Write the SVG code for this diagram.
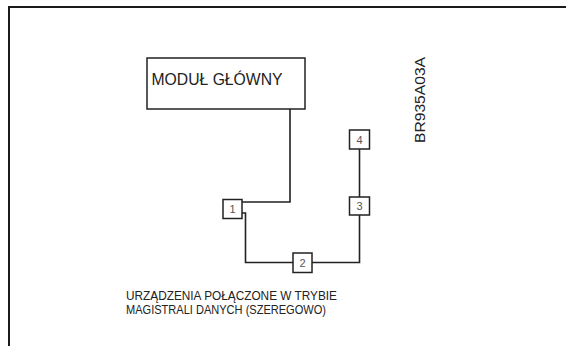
<svg xmlns="http://www.w3.org/2000/svg" width="566" height="346" viewBox="0 0 566 346">
<style>
.frame{fill:none;stroke:#1a1a1a;stroke-width:2}
.box{fill:#fff;stroke:#222;stroke-width:1.5}
.wire{fill:none;stroke:#222;stroke-width:1.6}
.t{font-family:"Liberation Sans",Arial,sans-serif;fill:#222}
.n{font-family:"Liberation Sans",Arial,sans-serif;fill:#555;font-size:11px;text-anchor:middle}
</style>
<rect width="566" height="346" fill="#fff"/>
<path class="frame" d="M9,346 V7 H566"/>
<g id="connectors">
<path class="wire" d="M290,109 V202 H242"/>
<path class="wire" d="M242,213 H245.5 V262.5 H293"/>
<path class="wire" d="M312,262.5 H359.5 V215"/>
<path class="wire" d="M359.5,197 V149"/>
</g>
<g id="main">
<rect class="box" x="147" y="58" width="158" height="51"/>
<text class="t" x="151.5" y="85" font-size="16" textLength="131" lengthAdjust="spacingAndGlyphs">MODUŁ GŁÓWNY</text>
</g>
<g id="n1">
<rect class="box" x="223" y="199.5" width="19" height="19"/>
<text class="n" x="232.5" y="213">1</text>
</g>
<g id="n2">
<rect class="box" x="293" y="253" width="19" height="19.5"/>
<text class="n" x="302.5" y="267">2</text>
</g>
<g id="n3">
<rect class="box" x="349.5" y="197" width="20" height="18"/>
<text class="n" x="359.5" y="210">3</text>
</g>
<g id="n4">
<rect class="box" x="349.5" y="130" width="20" height="19"/>
<text class="n" x="359.5" y="143.5">4</text>
</g>
<text class="t" transform="translate(425,143) rotate(-90)" x="0" y="0" font-size="15" fill="#444" textLength="86" lengthAdjust="spacingAndGlyphs">BR935A03A</text>
<text class="t" x="126" y="300" font-size="13.5" textLength="211" lengthAdjust="spacingAndGlyphs">URZĄDZENIA POŁĄCZONE W TRYBIE</text>
<text class="t" x="126" y="313.5" font-size="13.5" textLength="200" lengthAdjust="spacingAndGlyphs">MAGISTRALI DANYCH (SZEREGOWO)</text>
</svg>
